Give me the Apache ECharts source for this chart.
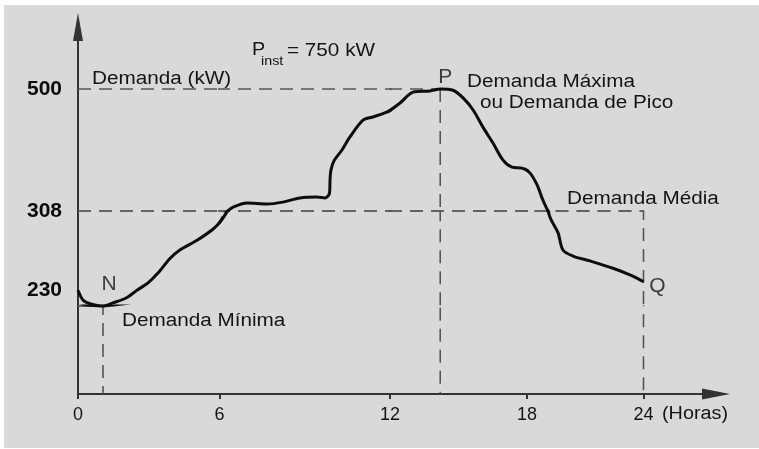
<!DOCTYPE html>
<html><head><meta charset="utf-8">
<script src="https://cdn.jsdelivr.net/npm/echarts@6/dist/echarts.min.js"></script>
<style>
html,body{margin:0;padding:0;background:#fff;}
#bg{position:absolute;left:4px;top:5px;width:755px;height:443px;background:#d9d9d9;}
#chart{position:absolute;left:0;top:0;width:759px;height:449px;}
</style></head><body>
<div id="bg"></div><div id="chart"></div>
<script>
// ---------- data ----------
const hours  = [0, 0.21, 0.51, 1.06, 1.48, 2.08, 2.50, 2.97, 3.39, 3.90, 4.32, 5.05, 5.72, 6.02, 6.23, 6.48, 6.97, 7.67, 8.23, 8.83, 9.43, 9.71, 9.87, 9.89, 9.92, 10.03, 10.31, 10.59, 11.05, 11.40, 11.90, 12.44, 13.01, 13.75, 14.2, 14.76, 15.20, 15.64, 16.07, 16.51, 16.95, 17.34, 17.78, 18.15, 18.52, 18.82, 19.18, 19.60, 19.85, 20.37, 21.24, 22.43, 23.30, 24];
const demand = [243, 235, 232, 230, 232.5, 237, 243, 249, 257, 269, 276, 284, 293, 299, 306, 314, 320.5, 319, 322, 328.5, 330, 328.5, 336, 357, 372, 387, 404, 424.5, 451, 456, 464, 478, 495, 497, 500, 498, 486, 467, 440, 415, 388, 377, 375.5, 368, 349, 325, 303, 290, 276, 271, 267, 261, 255.5, 250];
const xTickValues = [0, 6, 12, 18, 24];
const yTickValues = [230, 308, 500];
const axisOrigin = 0;
const minPoint  = [1.06, 230];   // N
const peakPoint = [14.2, 500];   // P
const endPoint  = [24, 250];     // Q
const avgDemand = 308;
const installedPower = 750;

// ---------- layout (hand-drawn, non-uniform axes -> one grid per axis segment) ----------
const X_PX = [78, 219.5, 390, 527, 643.5], X_END = 716;
const Y_PX = [394, 306, 211, 89], Y_END = 27;
const xKnots = xTickValues;
const yKnots = [axisOrigin].concat(yTickValues);
const FONT = '"Liberation Sans", Arial, Helvetica, sans-serif';
const AX = '#333';
const TXT = '#141414';

const xBands = [];
for (let i = 0; i < 4; i++) {
  const l = X_PX[i], r = (i === 3 ? X_END : X_PX[i + 1]);
  const slope = (xKnots[i + 1] - xKnots[i]) / (X_PX[i + 1] - X_PX[i]);
  xBands.push({ l, r, min: xKnots[i], max: xKnots[i] + (r - l) * slope });
}
const yBands = [];
for (let j = 0; j < 3; j++) {
  const b = Y_PX[j], t = (j === 2 ? Y_END : Y_PX[j + 1]);
  const slope = (yKnots[j + 1] - yKnots[j]) / (Y_PX[j] - Y_PX[j + 1]);
  yBands.push({ b, t, min: yKnots[j], max: yKnots[j] + (b - t) * slope });
}
function bandOf(bands, v) {
  for (let k = 0; k < bands.length; k++) if (v >= bands[k].min && v <= bands[k].max) return k;
  return bands.length - 1;
}

const curveData = hours.map((h, k) => [h, demand[k]]);
const lastHour = xTickValues[xTickValues.length - 1];
const refLines = [
  [[0, peakPoint[1]], peakPoint],
  [[0, avgDemand], [lastHour, avgDemand], [lastHour, axisOrigin]],
  [peakPoint, [peakPoint[0], axisOrigin]],
  [[0, minPoint[1]], minPoint, [minPoint[0], axisOrigin]]
];
const pointLabels = [
  { p: minPoint, text: 'N', offset: [6, -22] },
  { p: peakPoint, text: 'P', offset: [5, -12] },
  { p: endPoint, text: 'Q', offset: [14, 5] }
];

const grid = [], xAxis = [], yAxis = [], series = [];
for (let j = 0; j < 3; j++) {
  for (let i = 0; i < 4; i++) {
    const g = grid.length;
    const xb = xBands[i], yb = yBands[j];
    grid.push({ left: xb.l, top: yb.t, width: xb.r - xb.l, height: yb.b - yb.t, outerBoundsMode: 'none', containLabel: false });
    const xVals = xTickValues.filter(v => v >= xb.min && (i === 3 ? v <= xb.max : v < xb.max));
    xAxis.push({
      type: 'value', gridIndex: g, min: xb.min, max: xb.max,
      axisLine: { show: j === 0, onZero: false, symbol: i === 3 ? ['none', 'triangle'] : 'none', symbolSize: [11, 28], lineStyle: { color: AX, width: 2 } },
      axisTick: { show: j === 0, customValues: xVals, length: 5, lineStyle: { color: AX, width: 2 } },
      axisLabel: { show: j === 0, customValues: xVals, margin: 12, fontSize: 18, fontFamily: FONT, color: TXT },
      splitLine: { show: false }
    });
    const yVal = yTickValues[j];
    yAxis.push({
      type: 'value', gridIndex: g, min: yb.min, max: yb.max,
      axisLine: { show: i === 0, onZero: false, symbol: j === 2 ? ['none', 'triangle'] : 'none', symbolSize: [10, 28], lineStyle: { color: AX, width: 2 } },
      axisTick: { show: false },
      axisLabel: {
        show: i === 0, customValues: [yVal], margin: 16, fontSize: 21, fontWeight: 'bold', fontFamily: FONT, color: '#0c0c0c',
        verticalAlign: j === 0 ? 'bottom' : 'middle', padding: j === 0 ? [0, 0, 5, 0] : 0
      },
      splitLine: { show: false }
    });
    refLines.forEach(d => series.push({
      type: 'line', xAxisIndex: g, yAxisIndex: g, data: d, symbol: 'none', silent: true, z: 2,
      lineStyle: { color: '#555', width: 1.6, type: [13, 8] }
    }));
    series.push({
      type: 'line', xAxisIndex: g, yAxisIndex: g, data: curveData, symbol: 'none', smooth: 0.3, silent: true, z: 3,
      lineStyle: { color: '#0d0d0d', width: 3 }
    });
    pointLabels.forEach(pl => {
      if (bandOf(xBands, pl.p[0]) === i && bandOf(yBands, pl.p[1]) === j) {
        series.push({
          type: 'scatter', xAxisIndex: g, yAxisIndex: g, data: [pl.p], symbolSize: 1, silent: true, z: 4,
          itemStyle: { color: 'rgba(0,0,0,0)' },
          label: { show: true, formatter: pl.text, position: 'inside', offset: pl.offset, fontSize: 21, fontFamily: FONT, color: '#111' }
        });
      }
    });
  }
}

function txt(text, x, y, fs, sx) {
  return { type: 'text', x, y, scaleX: sx == null ? 1.15 : sx, silent: true, z: 10,
    style: { text, fill: TXT, fontSize: fs || 18, fontFamily: FONT, align: 'left', verticalAlign: 'middle' } };
}

const chart = echarts.init(document.getElementById('chart'), null, { renderer: 'canvas' });
chart.setOption({
  animation: false,
  backgroundColor: 'transparent',
  grid, xAxis, yAxis, series,
  graphic: [
    txt('Demanda (kW)', 92, 79),
    txt('P', 252, 50, 18, 1.1),
    txt('inst', 261, 61, 13, 1.1),
    txt('= ' + installedPower + ' kW', 287, 51, 18, 1.15),
    txt('Demanda Máxima', 467, 82),
    txt('ou Demanda de Pico', 480, 103),
    txt('Demanda Média', 567, 199),
    txt('Demanda Mínima', 122, 321),
    txt('(Horas)', 662, 414, 18, 1.1)
  ]
});
</script>
</body></html>
